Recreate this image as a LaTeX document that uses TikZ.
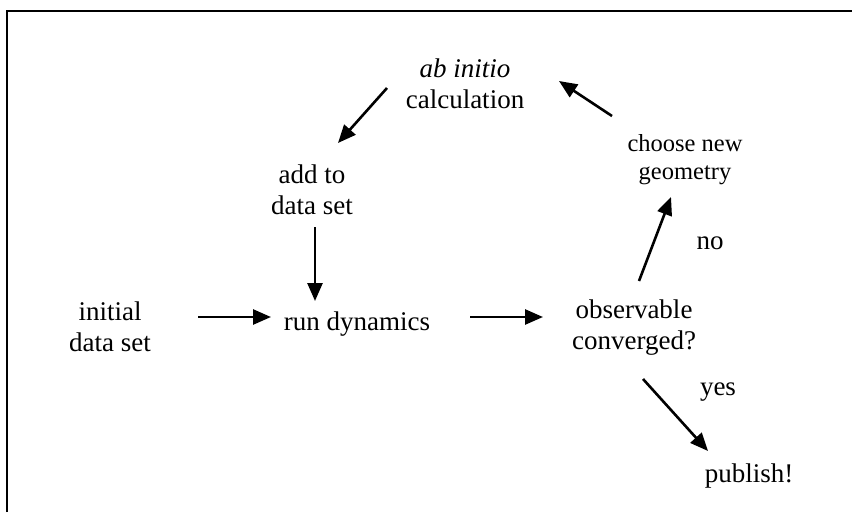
\documentclass[tikz,border=0pt]{standalone}
\usepackage{fontspec}
\setmainfont{Liberation Serif}
\usetikzlibrary{arrows.meta}
\begin{document}
\begin{tikzpicture}[x=1pt,y=-1pt,
  lbl/.style={inner sep=0pt,align=center,font=\fontsize{27}{31}\selectfont},
  small/.style={inner sep=0pt,align=center,font=\fontsize{24.5}{28}\selectfont},
  arr/.style={line width=2.6pt,-{Triangle[length=18pt,width=15pt]}},
  frame/.style={line width=2.8pt}]
\useasboundingbox (0,0) rectangle (852,512);
\draw[frame] (7,512) -- (7,11) -- (852,11);
% nodes
\node[lbl] (calc) at (465,84) {\textit{ab initio}\\calculation};
\node[lbl] (add) at (312,190) {add to\\data set};
\node[lbl] (init) at (110,327) {initial\\data set};
\node[lbl] (run) at (357,324) {run dynamics};
\node[lbl] (obs) at (634,328) {observable\\converged?};
\node[small] (choose) at (685,160) {choose new\\geometry};
\node[lbl] (pub) at (749,476) {publish!};
\node[lbl] (no) at (710,243) {no};
\node[lbl] (yes) at (718,392) {yes};
% connector end points
\coordinate (c1a) at (387,88);  \coordinate (c1b) at (338,143);
\coordinate (c2a) at (315,227); \coordinate (c2b) at (315,301);
\coordinate (c3a) at (198,317); \coordinate (c3b) at (271,317);
\coordinate (c4a) at (470,317); \coordinate (c4b) at (543,317);
\coordinate (c5a) at (639,281); \coordinate (c5b) at (671,197);
\coordinate (c6a) at (612,116); \coordinate (c6b) at (559,81);
\coordinate (c7a) at (643,379); \coordinate (c7b) at (708,451);
\draw[arr] (c1a) -- (c1b);
\draw[arr] (c2a) -- (c2b);
\draw[arr] (c3a) -- (c3b);
\draw[arr] (c4a) -- (c4b);
\draw[arr] (c5a) -- (c5b);
\draw[arr] (c6a) -- (c6b);
\draw[arr] (c7a) -- (c7b);
\end{tikzpicture}
\end{document}
